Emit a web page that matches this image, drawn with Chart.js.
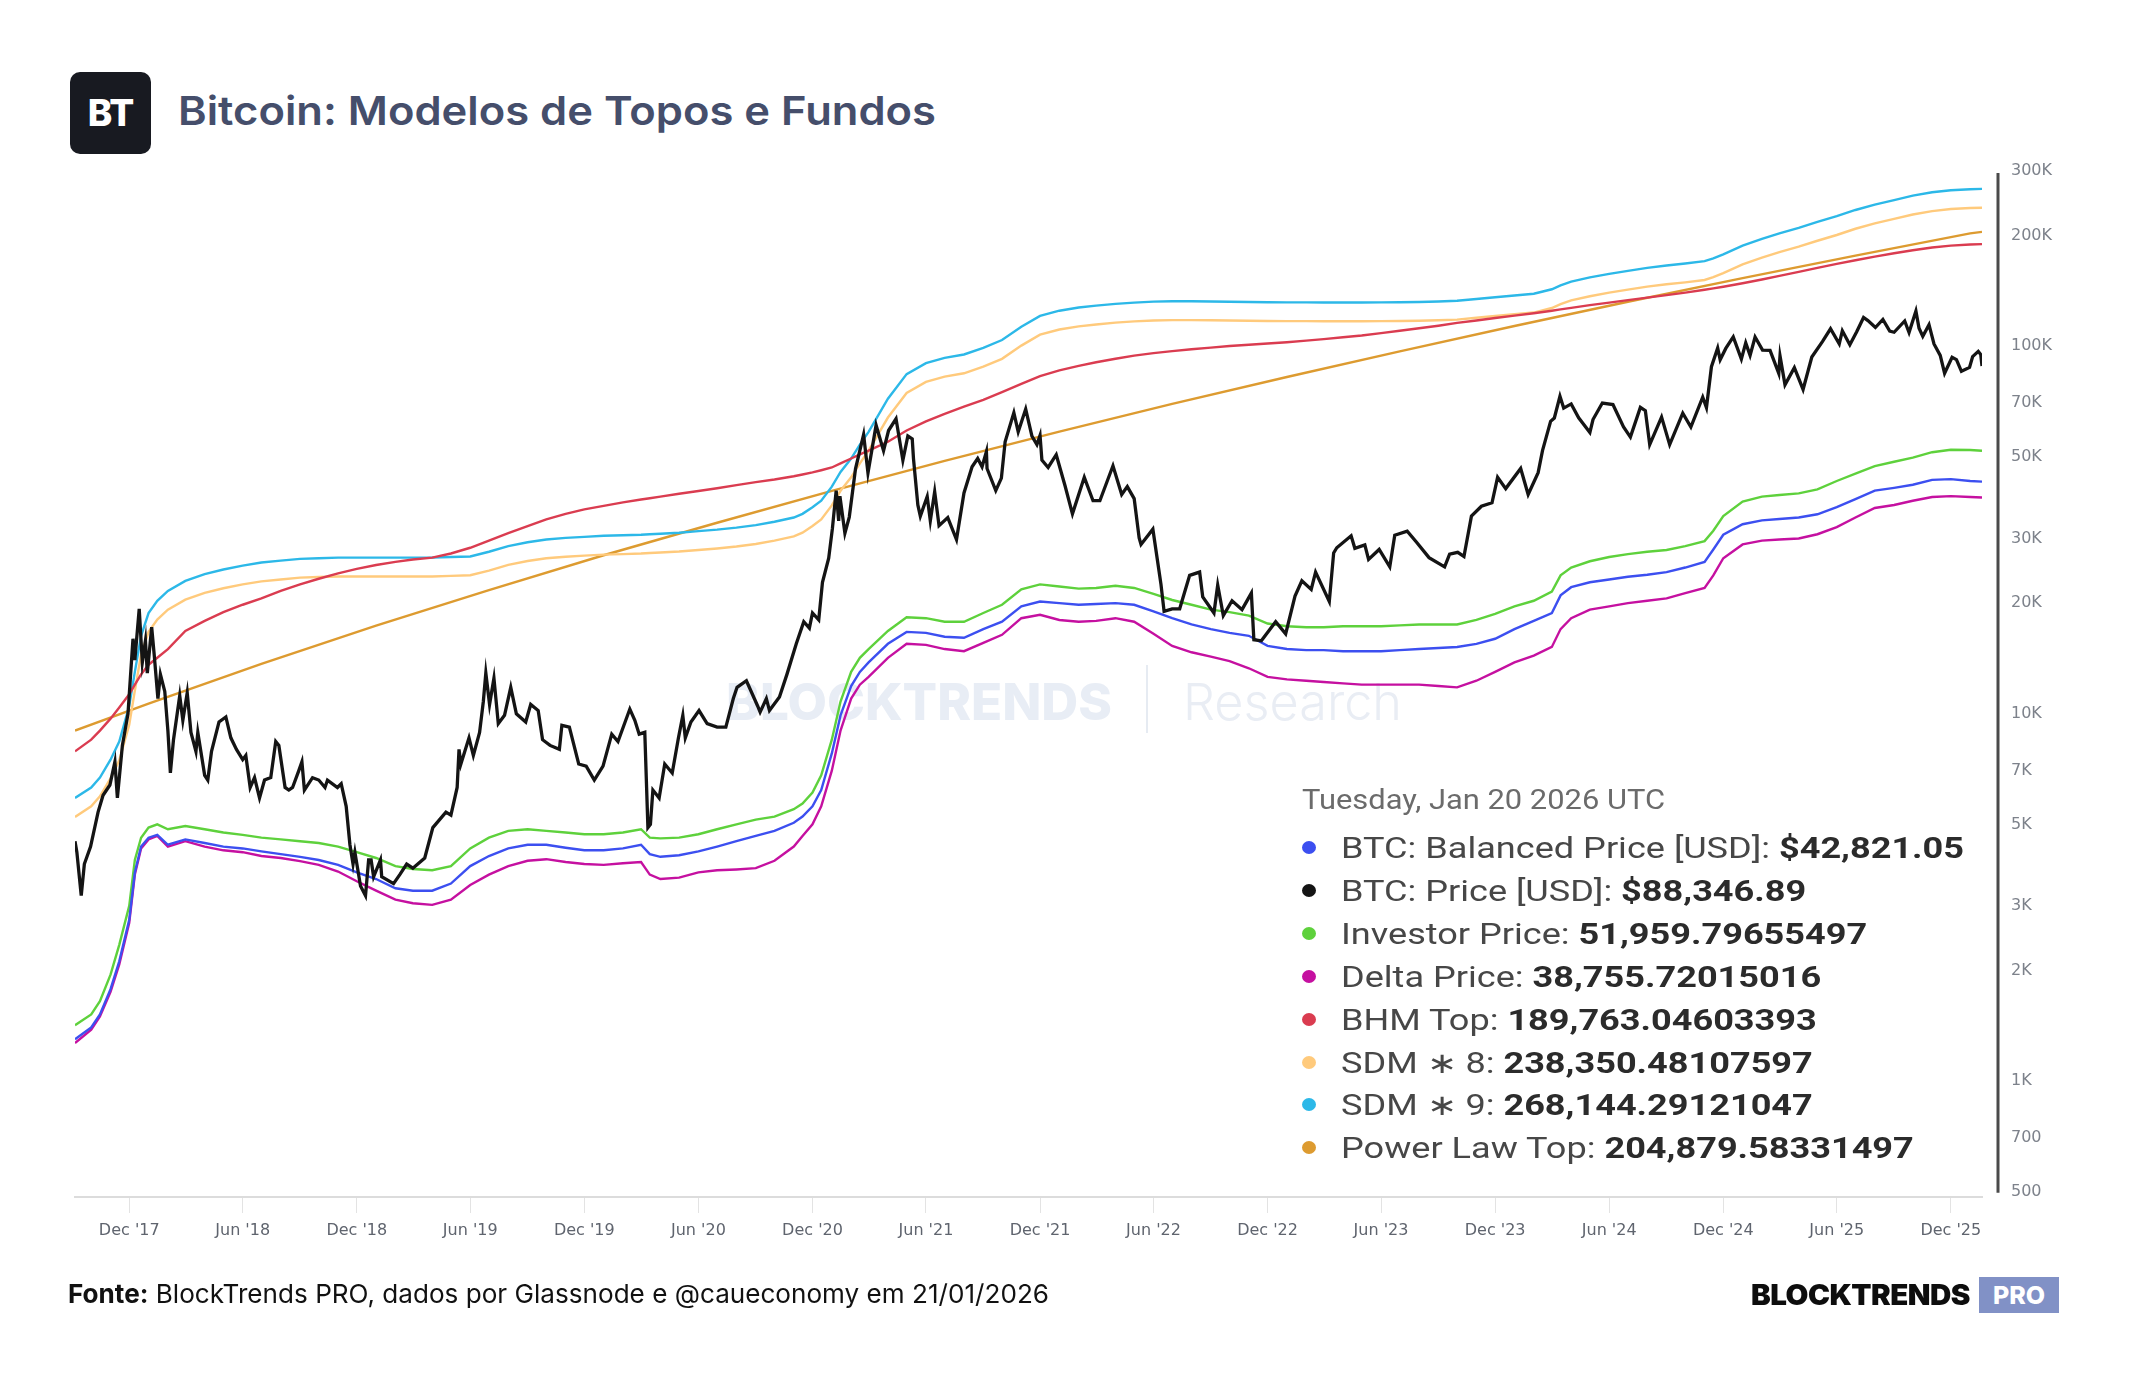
<!DOCTYPE html>
<html>
<head>
<meta charset="utf-8">
<title>Bitcoin: Modelos de Topos e Fundos</title>
<script src="https://cdn.jsdelivr.net/npm/chart.js@4.4.1/dist/chart.umd.min.js"></script>
<style>
  html, body { margin: 0; padding: 0; background: #fff; }
  #page { position: relative; width: 2144px; height: 1400px; overflow: hidden; font-family: Inter, "Noto Sans", sans-serif; }
  .abs { position: absolute; white-space: nowrap; }
  #logo { left: 70px; top: 72px; width: 81px; height: 82px; background: #181a21; border-radius: 10px; color: #fff; font: 800 37px/82px Inter, sans-serif; text-align: center; letter-spacing: -1px; }
  #title { left: 178px; top: 91px; font: 600 40px/40px Inter, sans-serif; color: #454e6b; }
  #wm1 { left: 726px; top: 676px; font: 800 51px/51px Inter, sans-serif; color: #e8edf5; }
  #wmSep { left: 1146px; top: 665px; width: 2px; height: 68px; background: #e6ebf2; }
  #wm2 { left: 1183px; top: 676px; font: 300 51px/51px Inter, sans-serif; color: #e9edf4; }
  #chart { position: absolute; left: 0; top: 0; }
  #legendDate { left: 1302px; top: 785px; font: 400 27px/30px Roboto, sans-serif; color: #6b6b6b; }
  .lrow { left: 1341px; font: 400 29px/36px Roboto, sans-serif; color: #474747; }
  .lrow b { color: #2b2b2b; font-weight: 700; }
  .ldot { width: 14px; height: 13px; border-radius: 50%; }
  #footer { left: 68px; top: 1279px; font: 400 26px/30px Inter, sans-serif; color: #111; }
  #footer b { font-weight: 700; }
  #brand { left: 1751px; top: 1280px; font: 900 28px/30px Inter, sans-serif; color: #0d0d0d; letter-spacing: -0.5px; }
  #pro { left: 1979px; top: 1277px; width: 80px; height: 36px; background: #8191c6; color: #fff; font: 800 25px/36px Inter, sans-serif; text-align: center; }
</style>
</head>
<body>
<div id="page">
  <div id="logo" class="abs">BT</div>
  <div id="title" class="abs">Bitcoin: Modelos de Topos e Fundos</div>
  <div id="wm1" class="abs">BLOCKTRENDS</div>
  <div id="wmSep" class="abs"></div>
  <div id="wm2" class="abs">Research</div>
  <canvas id="chart" width="2144" height="1400"></canvas>
  <div id="legendDate" class="abs">Tuesday, Jan 20 2026 UTC</div>
  <div id="footer" class="abs"><b>Fonte:</b> BlockTrends PRO, dados por Glassnode e @caueconomy em 21/01/2026</div>
  <div id="brand" class="abs">BLOCKTRENDS</div>
  <div id="pro" class="abs">PRO</div>
</div>
<script>
// values (USD, log axis)
const modelDates = [
  '2017-09-05','2017-10-01','2017-10-15','2017-11-01','2017-11-15','2017-12-01','2017-12-10','2017-12-20',
  '2018-01-01','2018-01-15','2018-02-01','2018-03-01','2018-04-01','2018-05-01','2018-06-01','2018-07-01','2018-08-01','2018-09-01','2018-10-01','2018-11-01','2018-12-01',
  '2019-01-01','2019-02-01','2019-03-01','2019-04-01','2019-05-01','2019-06-01','2019-07-01','2019-08-01','2019-09-01','2019-10-01','2019-11-01','2019-12-01',
  '2020-01-01','2020-02-01','2020-03-01','2020-03-15','2020-04-01','2020-05-01','2020-06-01','2020-07-01','2020-08-01','2020-09-01','2020-10-01','2020-11-01','2020-11-15','2020-12-01','2020-12-15',
  '2021-01-01','2021-01-15','2021-02-01','2021-02-15','2021-03-01','2021-04-01','2021-05-01','2021-06-01','2021-07-01','2021-08-01','2021-09-01','2021-10-01','2021-11-01','2021-12-01',
  '2022-01-01','2022-02-01','2022-03-01','2022-04-01','2022-05-01','2022-06-01','2022-07-01','2022-08-01','2022-09-01','2022-10-01','2022-11-01','2022-12-01',
  '2023-01-01','2023-02-01','2023-03-01','2023-04-01','2023-05-01','2023-06-01','2023-07-01','2023-08-01','2023-09-01','2023-10-01','2023-11-01','2023-12-01',
  '2024-01-01','2024-02-01','2024-03-01','2024-03-15','2024-04-01','2024-05-01','2024-06-01','2024-07-01','2024-08-01','2024-09-01','2024-10-01','2024-11-01','2024-11-15','2024-12-01',
  '2025-01-01','2025-02-01','2025-03-01','2025-04-01','2025-05-01','2025-06-01','2025-07-01','2025-08-01','2025-09-01','2025-10-01','2025-11-01','2025-12-01',
  '2026-01-01','2026-01-20'
];

const investorPrice = [
  1420, 1520, 1650, 1950, 2350, 3000, 4000, 4600,
  4900, 5000, 4850, 4950, 4850, 4750, 4680, 4600, 4550, 4500, 4450, 4350, 4200,
  4050, 3850, 3780, 3750, 3850, 4300, 4600, 4800, 4850, 4800, 4750, 4700,
  4700, 4750, 4850, 4600, 4580, 4600, 4700, 4850, 5000, 5150, 5250, 5500, 5700, 6100, 6800,
  8500, 10800, 13000, 14200, 15000, 16800, 18300, 18200, 17800, 17800, 18800, 19800, 21800, 22500,
  22200, 21900, 22000, 22300, 22000, 21200, 20400, 19800, 19200, 18900, 18500, 17600,
  17300, 17200, 17200, 17300, 17300, 17300, 17400, 17500, 17500, 17500, 18000, 18700,
  19600, 20300, 21500, 23800, 25000, 26000, 26700, 27200, 27600, 27900, 28600, 29500, 31500, 34500,
  37800, 39000, 39400, 39800, 40800, 43000, 45000, 47200, 48500, 49800, 51500, 52300,
  52200, 51960
];

const balancedPrice = [
  1300, 1400, 1520, 1780, 2120, 2750, 3700, 4350,
  4600, 4680, 4400, 4550, 4450, 4350, 4300, 4220, 4150, 4080, 4000, 3880, 3700,
  3550, 3350, 3300, 3300, 3450, 3850, 4100, 4300, 4400, 4400, 4320, 4250,
  4250, 4300, 4400, 4150, 4080, 4120, 4220, 4350, 4500, 4650, 4800, 5050, 5250, 5600, 6200,
  7800, 9900, 11900, 13000, 13800, 15500, 16700, 16600, 16200, 16100, 17000, 17800, 19600, 20200,
  20000, 19800, 19900, 20000, 19800, 19000, 18200, 17500, 17000, 16600, 16300, 15300,
  15000, 14900, 14900, 14800, 14800, 14800, 14900, 15000, 15100, 15200, 15500, 16000,
  17000, 17900, 18800, 21000, 22100, 22800, 23200, 23600, 23900, 24300, 25000, 25900, 28000, 30700,
  32800, 33600, 33900, 34200, 34900, 36500, 38400, 40500, 41200, 42000, 43300, 43500,
  43000, 42821
];

const deltaPrice = [
  1270, 1380, 1500, 1750, 2080, 2700, 3650, 4300,
  4550, 4650, 4350, 4500, 4350, 4250, 4200, 4100, 4050, 3970, 3880, 3720, 3500,
  3300, 3120, 3050, 3020, 3120, 3420, 3650, 3850, 3980, 4020, 3950, 3900,
  3880, 3920, 3950, 3650, 3550, 3580, 3700, 3750, 3770, 3800, 3980, 4350, 4650, 5000, 5600,
  7000, 9000, 11000, 12000, 12600, 14200, 15500, 15400, 15000, 14800, 15600, 16400, 18200, 18600,
  18000, 17800, 17900, 18200, 17800, 16500, 15300, 14700, 14300, 13900, 13300, 12600,
  12400, 12300, 12200, 12100, 12000, 12000, 12000, 12000, 11900, 11800, 12300, 13000,
  13800, 14400, 15200, 17000, 18200, 19200, 19600, 20000, 20300, 20600, 21300, 22000, 23800, 26500,
  28900, 29600, 29800, 30000, 30800, 32200, 34200, 36300, 37000, 38000, 38900, 39100,
  38900, 38756
];

const bhmTop = [
  7900, 8500, 9000, 9700, 10400, 11300, 12000, 12800,
  13600, 14200, 15000, 16800, 17900, 18900, 19800, 20600, 21600, 22500, 23300, 24100, 24800,
  25400, 25900, 26300, 26600, 27300, 28300, 29600, 31000, 32400, 33800, 35000, 36000,
  36800, 37600, 38300, 38600, 39000, 39700, 40400, 41100, 41900, 42700, 43400, 44300, 44800, 45400, 46000,
  46800, 48000, 49500, 50800, 52000, 55000, 59000, 62500, 65500, 68500, 71500, 75000, 79000, 83000,
  86000, 88500, 90500, 92500, 94300, 95800, 97000, 98200, 99200, 100200, 101000, 101800,
  102600, 103600, 104600, 105800, 107000, 108600, 110200, 112000, 113800, 115800, 117600, 119400,
  121200, 123000, 125000, 126000, 127200, 129400, 131500, 133600, 135700, 137800, 140000, 142500, 143800, 145300,
  148500, 152000, 155500, 159500, 163500, 167600, 171500, 175400, 179200, 182600, 185800, 188000,
  189200, 189763
];

const sdm8 = [
  5240, 5600, 5960, 6670, 7470, 9330, 11560, 14490,
  16710, 18040, 19200, 20440, 21330, 21960, 22490, 22930, 23200, 23470, 23560, 23640, 23640,
  23640, 23640, 23640, 23640, 23730, 23820, 24530, 25420, 26040, 26490, 26760, 26930,
  27110, 27200, 27290, 27380, 27470, 27640, 27910, 28180, 28530, 28980, 29600, 30400, 31110, 32440, 33780,
  36890, 40440, 44000, 48000, 52000, 64000, 74670, 80000, 82670, 84440, 88000, 92440, 100440, 107560,
  111110, 113330, 114670, 116000, 116890, 117600, 117870, 117870, 117690, 117510, 117330, 117160,
  117070, 117070, 116980, 116980, 116980, 117070, 117160, 117330, 117690, 118220, 119560, 120890,
  122220, 123560, 127110, 130220, 133330, 136890, 140000, 142670, 145330, 147560, 149330, 151560, 154220, 158220,
  167110, 174220, 180440, 186670, 193780, 200890, 208890, 216000, 222220, 228440, 233330, 236440,
  237870, 238350
];

const sdm9 = [
  5900, 6300, 6700, 7500, 8400, 10500, 13000, 16300,
  18800, 20300, 21600, 23000, 24000, 24700, 25300, 25800, 26100, 26400, 26500, 26600, 26600,
  26600, 26600, 26600, 26600, 26700, 26800, 27600, 28600, 29300, 29800, 30100, 30300,
  30500, 30600, 30700, 30800, 30900, 31100, 31400, 31700, 32100, 32600, 33300, 34200, 35000, 36500, 38000,
  41500, 45500, 49500, 54000, 58500, 72000, 84000, 90000, 93000, 95000, 99000, 104000, 113000, 121000,
  125000, 127500, 129000, 130500, 131500, 132300, 132600, 132600, 132400, 132200, 132000, 131800,
  131700, 131700, 131600, 131600, 131600, 131700, 131800, 132000, 132400, 133000, 134500, 136000,
  137500, 139000, 143000, 146500, 150000, 154000, 157500, 160500, 163500, 166000, 168000, 170500, 173500, 178000,
  188000, 196000, 203000, 210000, 218000, 226000, 235000, 243000, 250000, 257000, 262500, 266000,
  267600, 268144
];

const powerLawDates = [
  '2017-09-05','2018-01-01','2018-07-01','2019-01-01','2019-07-01','2020-01-01','2020-07-01','2021-01-01','2021-07-01','2022-01-01',
  '2022-07-01','2023-01-01','2023-07-01','2024-01-01','2024-07-01','2025-01-01','2025-07-01','2026-01-01','2026-01-20'
];
const powerLawTop = [
  9000, 10660, 13670, 17360, 21700, 27000, 33100, 40400, 48800, 58600,
  69700, 82500, 96900, 113600, 132200, 153300, 176500, 203000, 204880
];

const btcPrice = [
  ['2017-09-05', 4500], ['2017-09-08', 4200], ['2017-09-15', 3200], ['2017-09-20', 3900], ['2017-09-30', 4350],
  ['2017-10-12', 5400], ['2017-10-20', 6000], ['2017-10-31', 6400], ['2017-11-08', 7400], ['2017-11-12', 5900],
  ['2017-11-20', 8200], ['2017-11-29', 10000], ['2017-12-07', 16000], ['2017-12-10', 14000], ['2017-12-17', 19300],
  ['2017-12-22', 13800], ['2017-12-27', 15800], ['2017-12-30', 12900], ['2018-01-06', 17200], ['2018-01-10', 14500],
  ['2018-01-16', 11000], ['2018-01-20', 12800], ['2018-01-27', 11500], ['2018-02-01', 9000], ['2018-02-05', 6900],
  ['2018-02-10', 8500], ['2018-02-20', 11200], ['2018-02-25', 9600], ['2018-03-04', 11400], ['2018-03-10', 8900],
  ['2018-03-18', 7900], ['2018-03-21', 8900], ['2018-04-01', 6800], ['2018-04-06', 6600], ['2018-04-12', 7900],
  ['2018-04-24', 9500], ['2018-05-05', 9800], ['2018-05-13', 8600], ['2018-05-22', 8000], ['2018-06-01', 7500],
  ['2018-06-06', 7700], ['2018-06-13', 6300], ['2018-06-20', 6700], ['2018-06-28', 5900], ['2018-07-06', 6600],
  ['2018-07-16', 6700], ['2018-07-24', 8400], ['2018-07-29', 8200], ['2018-08-08', 6300], ['2018-08-14', 6200],
  ['2018-08-20', 6300], ['2018-08-30', 7000], ['2018-09-04', 7400], ['2018-09-08', 6200], ['2018-09-21', 6700],
  ['2018-10-01', 6600], ['2018-10-11', 6300], ['2018-10-15', 6600], ['2018-10-31', 6300], ['2018-11-06', 6450],
  ['2018-11-14', 5600], ['2018-11-20', 4400], ['2018-11-25', 3900], ['2018-11-28', 4200], ['2018-12-07', 3400],
  ['2018-12-15', 3200], ['2018-12-20', 4000], ['2018-12-24', 4000], ['2018-12-28', 3600], ['2019-01-08', 4000],
  ['2019-01-10', 3600], ['2019-01-29', 3450], ['2019-02-08', 3650], ['2019-02-19', 3900], ['2019-03-01', 3800],
  ['2019-03-20', 4050], ['2019-04-02', 4900], ['2019-04-23', 5400], ['2019-05-01', 5300], ['2019-05-11', 6300],
  ['2019-05-14', 8000], ['2019-05-17', 7300], ['2019-05-30', 8600], ['2019-06-06', 7700], ['2019-06-16', 8900],
  ['2019-06-22', 10800], ['2019-06-26', 12900], ['2019-07-02', 10600], ['2019-07-09', 12500], ['2019-07-16', 9400],
  ['2019-07-26', 9900], ['2019-08-05', 11800], ['2019-08-14', 10000], ['2019-08-29', 9500], ['2019-09-06', 10600],
  ['2019-09-18', 10200], ['2019-09-25', 8500], ['2019-10-07', 8200], ['2019-10-22', 8000], ['2019-10-26', 9300],
  ['2019-11-07', 9200], ['2019-11-22', 7300], ['2019-12-04', 7200], ['2019-12-17', 6600], ['2019-12-31', 7200],
  ['2020-01-14', 8800], ['2020-01-24', 8400], ['2020-02-12', 10300], ['2020-02-20', 9600], ['2020-02-27', 8800],
  ['2020-03-07', 8900], ['2020-03-12', 4900], ['2020-03-16', 5000], ['2020-03-20', 6200], ['2020-03-30', 5900],
  ['2020-04-08', 7300], ['2020-04-20', 6900], ['2020-04-30', 8600], ['2020-05-07', 9900], ['2020-05-11', 8600],
  ['2020-05-20', 9500], ['2020-06-02', 10200], ['2020-06-15', 9400], ['2020-07-01', 9200], ['2020-07-15', 9200],
  ['2020-07-27', 11000], ['2020-08-02', 11800], ['2020-08-17', 12300], ['2020-09-04', 10500], ['2020-09-08', 10100],
  ['2020-09-18', 11000], ['2020-09-23', 10200], ['2020-10-09', 11100], ['2020-10-21', 12800], ['2020-11-05', 15500],
  ['2020-11-17', 17800], ['2020-11-26', 17100], ['2020-12-01', 18800], ['2020-12-11', 18000], ['2020-12-17', 22800],
  ['2020-12-27', 26500], ['2021-01-02', 32000], ['2021-01-08', 40500], ['2021-01-12', 33500], ['2021-01-14', 39100],
  ['2021-01-22', 31000], ['2021-01-29', 34300], ['2021-02-08', 46400], ['2021-02-21', 57500], ['2021-02-28', 45200],
  ['2021-03-13', 61000], ['2021-03-25', 52000], ['2021-04-02', 59000], ['2021-04-14', 63500], ['2021-04-25', 49000],
  ['2021-05-03', 57000], ['2021-05-10', 56000], ['2021-05-12', 49500], ['2021-05-19', 37000], ['2021-05-23', 34500],
  ['2021-06-03', 39000], ['2021-06-08', 33500], ['2021-06-15', 40200], ['2021-06-22', 32500], ['2021-07-06', 34200],
  ['2021-07-20', 29800], ['2021-08-01', 39900], ['2021-08-14', 47000], ['2021-08-23', 49500], ['2021-08-30', 47000],
  ['2021-09-06', 51700], ['2021-09-07', 46500], ['2021-09-21', 40500], ['2021-09-30', 43800], ['2021-10-06', 55000],
  ['2021-10-20', 66000], ['2021-10-27', 58500], ['2021-11-08', 67500], ['2021-11-18', 57000], ['2021-11-26', 54000],
  ['2021-12-01', 57200], ['2021-12-04', 49000], ['2021-12-14', 46800], ['2021-12-27', 50700], ['2022-01-10', 41800],
  ['2022-01-22', 35000], ['2022-02-10', 44000], ['2022-02-24', 38000], ['2022-03-07', 38000], ['2022-03-28', 47300],
  ['2022-04-11', 39500], ['2022-04-20', 41500], ['2022-05-01', 38500], ['2022-05-09', 30100], ['2022-05-12', 28900],
  ['2022-05-31', 31800], ['2022-06-13', 22500], ['2022-06-18', 19000], ['2022-07-01', 19300], ['2022-07-13', 19300],
  ['2022-07-29', 23800], ['2022-08-14', 24300], ['2022-08-19', 20800], ['2022-09-06', 18800], ['2022-09-12', 22400],
  ['2022-09-21', 18500], ['2022-10-05', 20300], ['2022-10-21', 19200], ['2022-11-05', 21300], ['2022-11-09', 15900],
  ['2022-11-21', 15800], ['2022-12-14', 17800], ['2022-12-30', 16500], ['2023-01-14', 20900], ['2023-01-25', 23000],
  ['2023-02-09', 21800], ['2023-02-16', 24300], ['2023-03-10', 20200], ['2023-03-17', 27400], ['2023-03-22', 28300],
  ['2023-04-14', 30500], ['2023-04-20', 28200], ['2023-05-06', 28800], ['2023-05-12', 26300], ['2023-05-29', 28000],
  ['2023-06-15', 25100], ['2023-06-23', 30600], ['2023-07-13', 31400], ['2023-07-28', 29300], ['2023-08-17', 26600],
  ['2023-09-11', 25100], ['2023-09-19', 27200], ['2023-10-02', 27500], ['2023-10-12', 26800], ['2023-10-24', 34500],
  ['2023-11-09', 36700], ['2023-11-26', 37500], ['2023-12-05', 44000], ['2023-12-18', 41000], ['2024-01-11', 46500],
  ['2024-01-23', 39500], ['2024-02-08', 45300], ['2024-02-15', 52000], ['2024-02-28', 62500], ['2024-03-05', 63800],
  ['2024-03-14', 73100], ['2024-03-20', 67900], ['2024-04-01', 69700], ['2024-04-13', 63900], ['2024-05-01', 58300],
  ['2024-05-06', 63200], ['2024-05-21', 70100], ['2024-06-07', 69400], ['2024-06-24', 60300], ['2024-07-05', 56600],
  ['2024-07-21', 68200], ['2024-07-29', 66800], ['2024-08-05', 54000], ['2024-08-24', 64200], ['2024-09-06', 54000],
  ['2024-09-27', 65800], ['2024-10-10', 60300], ['2024-10-29', 72700], ['2024-11-04', 68100], ['2024-11-12', 88000],
  ['2024-11-22', 98900], ['2024-11-26', 91900], ['2024-12-05', 98700], ['2024-12-17', 106100], ['2024-12-30', 92300],
  ['2025-01-06', 102200], ['2025-01-13', 94500], ['2025-01-21', 106000], ['2025-02-02', 97700], ['2025-02-14', 97500],
  ['2025-02-28', 84400], ['2025-03-02', 94200], ['2025-03-10', 78600], ['2025-03-25', 87500], ['2025-04-08', 76300],
  ['2025-04-22', 93500], ['2025-05-09', 103000], ['2025-05-22', 111600], ['2025-06-05', 101500], ['2025-06-10', 110200],
  ['2025-06-22', 101000], ['2025-07-03', 109600], ['2025-07-14', 119800], ['2025-07-21', 117500], ['2025-08-02', 112500],
  ['2025-08-14', 118300], ['2025-08-25', 110000], ['2025-09-01', 109200], ['2025-09-18', 117200], ['2025-09-25', 109000],
  ['2025-10-06', 124700], ['2025-10-11', 112000], ['2025-10-17', 106500], ['2025-10-27', 114500], ['2025-11-04', 101500],
  ['2025-11-14', 94500], ['2025-11-21', 84500], ['2025-12-03', 93400], ['2025-12-10', 92000], ['2025-12-18', 85500],
  ['2025-12-31', 87600], ['2026-01-05', 93800], ['2026-01-14', 96900], ['2026-01-18', 95000], ['2026-01-20', 88347]
];

const xTickDates = ['2017-12-01','2018-06-01','2018-12-01','2019-06-01','2019-12-01','2020-06-01','2020-12-01','2021-06-01','2021-12-01',
  '2022-06-01','2022-12-01','2023-06-01','2023-12-01','2024-06-01','2024-12-01','2025-06-01','2025-12-01'];
const xTickLabels = ["Dec '17","Jun '18","Dec '18","Jun '19","Dec '19","Jun '20","Dec '20","Jun '21","Dec '21",
  "Jun '22","Dec '22","Jun '23","Dec '23","Jun '24","Dec '24","Jun '25","Dec '25"];
const yTickValues = [500, 700, 1000, 2000, 3000, 5000, 7000, 10000, 20000, 30000, 50000, 70000, 100000, 200000, 300000];
const yTickLabels = ['500', '700', '1K', '2K', '3K', '5K', '7K', '10K', '20K', '30K', '50K', '70K', '100K', '200K', '300K'];

const legendLabels = ['BTC: Balanced Price [USD]: ', 'BTC: Price [USD]: ', 'Investor Price: ', 'Delta Price: ',
  'BHM Top: ', 'SDM \u2217 8: ', 'SDM \u2217 9: ', 'Power Law Top: '];
const legendValues = ['$42,821.05', '$88,346.89', '51,959.79655497', '38,755.72015016',
  '189,763.04603393', '238,350.48107597', '268,144.29121047', '204,879.58331497'];

const colors = ['#3c4ff0', '#141414', '#5ed13c', '#c510a0', '#da3c50', '#ffca7c', '#2cb8e8', '#dd9b30'];

const toDay = s => Date.parse(s + 'T00:00:00Z') / 864e5;
const pairs = (dates, values) => dates.map((d, i) => ({ x: toDay(d), y: values[i] }));

const axisLine = {
    id: 'axisLine',
    afterDraw: function (chart) {
        const c = chart.ctx, y = chart.scales.y, x = chart.chartArea.right + 16;
        c.save();
        c.strokeStyle = '#4a4a4a';
        c.lineWidth = 3;
        c.beginPath();
        c.moveTo(x, y.getPixelForValue(300000) + 2);
        c.lineTo(x, y.getPixelForValue(500) + 1);
        c.stroke();
        c.restore();
    }
};

const ctx = document.getElementById('chart');
new Chart(ctx, {
    type: 'line',
    data: {
        datasets: [
            { data: btcPrice.map(p => ({ x: toDay(p[0]), y: p[1] })), borderColor: colors[1], borderWidth: 3.3, order: 0 },
            { data: pairs(modelDates, balancedPrice), borderColor: colors[0], order: 1 },
            { data: pairs(modelDates, investorPrice), borderColor: colors[2], order: 2 },
            { data: pairs(modelDates, deltaPrice), borderColor: colors[3], order: 3 },
            { data: pairs(modelDates, bhmTop), borderColor: colors[4], order: 4 },
            { data: pairs(modelDates, sdm8), borderColor: colors[5], order: 5 },
            { data: pairs(modelDates, sdm9), borderColor: colors[6], order: 6 },
            { data: pairs(powerLawDates, powerLawTop), borderColor: colors[7], order: 7 }
        ]
    },
    options: {
        responsive: false,
        animation: false,
        devicePixelRatio: 1,
        layout: { padding: { left: 75, top: 171, right: 0, bottom: 0 } },
        elements: {
            point: { radius: 0 },
            line: { borderWidth: 2.4, tension: 0, fill: false }
        },
        plugins: {
            legend: { display: false },
            tooltip: { enabled: false }
        },
        scales: {
            x: {
                type: 'linear',
                bounds: 'data',
                min: toDay('2017-09-05'),
                max: toDay('2026-01-20'),
                afterBuildTicks: function (s) { s.ticks = xTickDates.map(d => ({ value: toDay(d) })); },
                afterFit: function (s) { s.height = 203; },
                ticks: {
                    autoSkip: false, maxRotation: 0, padding: 8, color: '#5f646e',
                    font: { family: 'DejaVu Sans', size: 16 },
                    callback: function (v, i) { return xTickLabels[i]; }
                },
                grid: { drawOnChartArea: false, drawTicks: true, tickLength: 16, color: '#e3e3e3' },
                border: { display: true, color: '#dcdcdc', width: 2 }
            },
            y: {
                type: 'logarithmic',
                position: 'right',
                min: 484,
                max: 300000,
                afterBuildTicks: function (s) { s.ticks = yTickValues.map(v => ({ value: v })); },
                afterFit: function (s) { s.width = 162; },
                ticks: {
                    padding: 29, color: '#7d828b',
                    font: { family: 'DejaVu Sans', size: 16 },
                    callback: function (v) { return yTickLabels[yTickValues.indexOf(v)]; }
                },
                grid: { display: false, drawTicks: false },
                border: { display: false }
            }
        }
    },
    plugins: [axisLine]
});

// legend block (bottom right)
const page = document.getElementById('page');
const rows = [];
legendLabels.forEach(function (label, i) {
    const top = 830 + i * 42.9;
    const dot = document.createElement('div');
    dot.className = 'abs ldot';
    dot.style.left = '1302px';
    dot.style.top = (top + 11) + 'px';
    dot.style.background = colors[i];
    page.appendChild(dot);
    const row = document.createElement('div');
    row.className = 'abs lrow';
    row.style.top = top + 'px';
    row.innerHTML = label + '<b>' + legendValues[i] + '</b>';
    page.appendChild(row);
    rows.push(row);
});

function fitWidth(el, target) {
    el.style.transform = 'none';
    const k = target / el.getBoundingClientRect().width;
    el.style.transformOrigin = 'left center';
    el.style.transform = 'scaleX(' + k.toFixed(4) + ')';
    return k;
}
function fitAll() {
    fitWidth(document.getElementById('title'), 758);
    fitWidth(document.getElementById('footer'), 981);
    fitWidth(document.getElementById('brand'), 219);
    fitWidth(document.getElementById('wm1'), 386);
    fitWidth(document.getElementById('wm2'), 219);
    fitWidth(document.getElementById('legendDate'), 363);
    const k = fitWidth(rows[0], 623);
    rows.forEach(function (r) { r.style.transformOrigin = 'left center'; r.style.transform = 'scaleX(' + k.toFixed(4) + ')'; });
}
fitAll();
if (document.fonts) document.fonts.ready.then(fitAll);
</script>
</body>
</html>
